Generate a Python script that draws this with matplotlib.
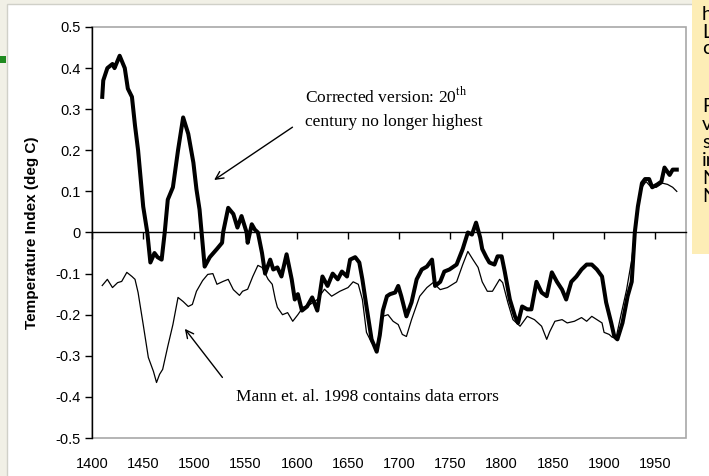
import matplotlib
matplotlib.use("Agg")
import matplotlib.pyplot as plt
from matplotlib.patches import Rectangle

plt.rcParams['font.family'] = ['Liberation Sans', 'DejaVu Sans']
plt.rcParams['mathtext.fontset'] = 'custom'
plt.rcParams['mathtext.rm'] = 'Liberation Serif'

# corrected reconstruction (thick)
corr_years = [1410, 1411, 1415, 1420, 1422, 1427, 1432, 1435, 1439, 1442, 1445, 1450,
              1454, 1457, 1461, 1464, 1468, 1471, 1474, 1479, 1484, 1489, 1494, 1499,
              1502, 1505, 1507, 1510, 1515, 1522, 1527, 1528, 1533, 1538, 1542, 1546,
              1551, 1552, 1556, 1559, 1562, 1566, 1569, 1574, 1577, 1581, 1585, 1590,
              1595, 1598, 1601, 1605, 1610, 1615, 1620, 1625, 1630, 1635, 1640, 1644,
              1649, 1652, 1657, 1661, 1664, 1668, 1673, 1678, 1681, 1684, 1688, 1691,
              1696, 1699, 1702, 1707, 1712, 1717, 1722, 1727, 1732, 1735, 1740, 1744,
              1749, 1756, 1762, 1767, 1771, 1775, 1779, 1781, 1785, 1788, 1793, 1796,
              1800, 1803, 1808, 1813, 1816, 1820, 1825, 1829, 1834, 1839, 1844, 1849,
              1854, 1859, 1863, 1868, 1873, 1878, 1883, 1888, 1893, 1898, 1902, 1907,
              1910, 1913, 1918, 1923, 1927, 1930, 1933, 1937, 1940, 1944, 1947, 1952,
              1956, 1959, 1964, 1967, 1971]
corr_vals = [0.33, 0.37, 0.40, 0.41, 0.40, 0.43, 0.40, 0.35, 0.33, 0.26, 0.20, 0.063,
             0.0, -0.073, -0.05, -0.06, -0.066, 0.0, 0.08, 0.11, 0.20, 0.28, 0.24, 0.17,
             0.105, 0.056, 0.0, -0.083, -0.06, -0.04, -0.025, 0.0, 0.06, 0.045, 0.012, 0.04,
             0.0, -0.025, 0.02, 0.007, 0.0, -0.05, -0.10, -0.066, -0.09, -0.085, -0.107, -0.053,
             -0.114, -0.163, -0.15, -0.19, -0.18, -0.158, -0.19, -0.107, -0.13, -0.10, -0.114, -0.095,
             -0.107, -0.066, -0.06, -0.073, -0.114, -0.18, -0.26, -0.29, -0.25, -0.19, -0.155, -0.15,
             -0.146, -0.13, -0.155, -0.204, -0.17, -0.114, -0.09, -0.083, -0.066, -0.13, -0.12, -0.095,
             -0.09, -0.078, -0.04, 0.0, -0.005, 0.024, -0.012, -0.04, -0.06, -0.073, -0.078, -0.058,
             -0.058, -0.095, -0.163, -0.204, -0.22, -0.18, -0.187, -0.187, -0.12, -0.146, -0.155, -0.097,
             -0.12, -0.139, -0.163, -0.12, -0.107, -0.09, -0.078, -0.078, -0.09, -0.107, -0.17, -0.22,
             -0.253, -0.26, -0.22, -0.155, -0.12, 0.0, 0.063, 0.12, 0.13, 0.13, 0.11, 0.117,
             0.124, 0.158, 0.14, 0.153, 0.153]

# MBH98 (thin)
mbh_years = [1410, 1415, 1420, 1425, 1429, 1434, 1439, 1442, 1445, 1450, 1455, 1460,
             1463, 1466, 1469, 1474, 1479, 1484, 1489, 1494, 1498, 1502, 1508, 1513,
             1518, 1522, 1528, 1533, 1538, 1544, 1547, 1552, 1557, 1562, 1566, 1572,
             1576, 1579, 1581, 1586, 1591, 1596, 1601, 1606, 1613, 1620, 1627, 1634,
             1642, 1650, 1655, 1660, 1664, 1668, 1673, 1678, 1681, 1684, 1689, 1694,
             1699, 1703, 1707, 1712, 1720, 1727, 1733, 1740, 1747, 1756, 1762, 1767,
             1772, 1777, 1781, 1786, 1791, 1798, 1801, 1806, 1811, 1818, 1825, 1832,
             1839, 1844, 1847, 1852, 1859, 1864, 1871, 1878, 1883, 1888, 1893, 1898,
             1900, 1905, 1908, 1912, 1917, 1922, 1927, 1930, 1933, 1937, 1941, 1946,
             1951, 1957, 1962, 1967, 1971]
mbh_vals = [-0.129, -0.114, -0.134, -0.122, -0.119, -0.097, -0.107, -0.114, -0.146, -0.224, -0.304, -0.338,
            -0.365, -0.345, -0.333, -0.277, -0.224, -0.158, -0.168, -0.18, -0.175, -0.143, -0.117, -0.102,
            -0.10, -0.126, -0.119, -0.114, -0.139, -0.153, -0.143, -0.138, -0.107, -0.08, -0.085, -0.114,
            -0.126, -0.163, -0.182, -0.2, -0.195, -0.216, -0.2, -0.182, -0.175, -0.163, -0.138, -0.155,
            -0.143, -0.134, -0.12, -0.126, -0.163, -0.243, -0.268, -0.277, -0.243, -0.204, -0.2, -0.216,
            -0.224, -0.248, -0.253, -0.212, -0.155, -0.134, -0.122, -0.139, -0.134, -0.12, -0.078, -0.046,
            -0.066, -0.085, -0.12, -0.143, -0.143, -0.114, -0.122, -0.17, -0.212, -0.228, -0.204, -0.212,
            -0.228, -0.26, -0.241, -0.216, -0.212, -0.22, -0.216, -0.207, -0.216, -0.204, -0.212, -0.22,
            -0.243, -0.248, -0.255, -0.253, -0.195, -0.139, -0.066, 0.0, 0.073, 0.11, 0.124, 0.11,
            0.11, 0.12, 0.117, 0.11, 0.10]

xticks = list(range(1400, 1951, 50))
yticks = [0.5, 0.4, 0.3, 0.2, 0.1, 0, -0.1, -0.2, -0.3, -0.4, -0.5]
ytick_labels = ['0.5', '0.4', '0.3', '0.2', '0.1', '0', '-0.1', '-0.2', '-0.3', '-0.4', '-0.5']
side_letters = ['h', 'L', 'c', 'F', 'v', 's', 'in', 'N', 'N']
side_rows = [15, 32, 49, 107, 125, 143, 161, 179, 197]   # pixel rows from top

W, H = 709, 476
fig = plt.figure(figsize=(W / 100, H / 100), dpi=100)
fig.patch.set_facecolor('#f1f0e6')

# white slide panel
fig.patches.append(Rectangle((7 / W, -0.01), 1.0, 1.01 - 4 / H, transform=fig.transFigure,
                             facecolor='white', edgecolor='#d0d0c8', lw=1, zorder=-2))
# green bullet mark at far left
fig.patches.append(Rectangle((0, 1 - 63 / H), 6 / W, 7 / H, transform=fig.transFigure,
                             facecolor='#1f8a1f', edgecolor='none', zorder=-1))
# yellow note box (cut off at the right edge)
fig.patches.append(Rectangle((692 / W, 1 - 254 / H), 0.1, 254 / H, transform=fig.transFigure,
                             facecolor='#fdedb6', edgecolor='none', zorder=-1))
for s, row in zip(side_letters, side_rows):
    fig.text(702 / W, 1 - row / H, s, fontsize=14, family=['Lato', 'DejaVu Sans'],
             va='center', ha='left', color='black', zorder=5)

ax = fig.add_axes([92 / W, 1 - 438 / H, (686 - 92) / W, (438 - 27) / H], zorder=1)
ax.set_facecolor('none')

ax.plot(mbh_years, mbh_vals, color='black', lw=0.9, zorder=3)
ax.plot(corr_years, corr_vals, color='black', lw=2.9, zorder=4, solid_joinstyle='round')

ax.set_xlim(1400, 1980)
ax.set_ylim(-0.5, 0.5)
ax.set_yticks(yticks)
ax.set_yticklabels(ytick_labels)
ax.set_xticks(xticks)

for side in ['top', 'right']:
    ax.spines[side].set_visible(False)
ax.spines['left'].set_color('black')
ax.spines['left'].set_linewidth(1.0)
ax.spines['bottom'].set_position(('data', 0))
ax.spines['bottom'].set_color('black')
ax.spines['bottom'].set_linewidth(1.0)

# gray frame around the plot area
ax.add_patch(Rectangle((0, 0), 1, 1, transform=ax.transAxes, fill=False,
                       edgecolor='#a8a8a8', lw=1.2, clip_on=False, zorder=1))

ax.tick_params(axis='y', direction='out', length=5, width=1, labelsize=10.5, pad=3)
ax.tick_params(axis='x', direction='out', length=5, width=1, labelsize=10.5, pad=157)

ax.set_ylabel('Temperature Index (deg C)', fontsize=11, fontweight='bold', labelpad=12)

ax.annotate('', xy=(1517, 0.124), xytext=(1598, 0.26),
            arrowprops=dict(arrowstyle='->', color='black', lw=1.0, mutation_scale=14))
ax.annotate('', xy=(1489, -0.229), xytext=(1529, -0.358),
            arrowprops=dict(arrowstyle='->', color='black', lw=1.0, mutation_scale=14))

serif = ['Liberation Serif', 'DejaVu Serif']
ax.text(1608, 0.331, 'Corrected version: 20$^{\\mathrm{th}}$', family=serif, fontsize=12.5,
        ha='left', va='center')
ax.text(1608, 0.268, 'century no longer highest', family=serif, fontsize=12.5,
        ha='left', va='center')
ax.text(1540.5, -0.40, 'Mann et. al. 1998 contains data errors', family=serif, fontsize=12.5,
        ha='left', va='center')

fig.savefig('out.png', dpi=100, facecolor=fig.get_facecolor())
